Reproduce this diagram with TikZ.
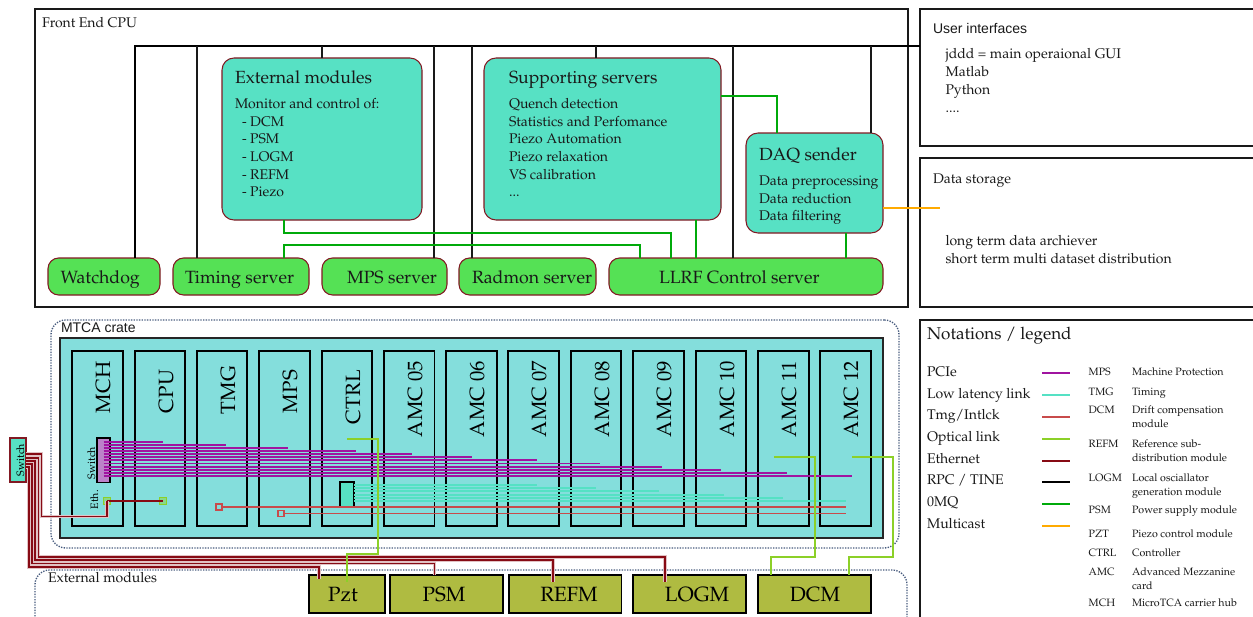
\documentclass[tikz,border=0pt]{standalone}
\usepackage{mathpazo}
\usepackage{fontspec}
\setmainfont{Liberation Serif}
\newfontfamily\lsans{Liberation Sans}
\newcommand\pal[1]{\fontencoding{OT1}\fontfamily{ppl}\fontseries{m}\fontshape{n}\fontsize{#1}{#1}\selectfont}
\newcommand\lsz[1]{\lsans\fontsize{#1}{#1}\selectfont}
\definecolor{tealbox}{RGB}{87,225,196}
\definecolor{greenbox}{RGB}{85,225,85}
\definecolor{cratefill}{RGB}{132,222,220}
\definecolor{modfill}{RGB}{175,187,65}
\definecolor{pcie}{RGB}{160,20,160}
\definecolor{lowlat}{RGB}{85,225,196}
\definecolor{tmgc}{RGB}{200,75,75}
\definecolor{optc}{RGB}{140,208,40}
\definecolor{ethc}{RGB}{135,10,20}
\definecolor{zmq}{RGB}{0,170,10}
\definecolor{mcast}{RGB}{255,170,0}
\definecolor{dotc}{RGB}{70,90,125}
\definecolor{brd}{RGB}{130,25,35}
\tikzset{
  x=0.75pt,y=-0.75pt,
  txt/.style={anchor=base west,inner sep=0pt,outer sep=0pt,text=black!90,yshift=-0.6pt},
  rtxt/.style={anchor=base west,rotate=90,inner sep=0pt,outer sep=0pt},
  ctxt/.style={anchor=base,inner sep=0pt,outer sep=0pt},
  panel/.style={draw=black!90,line width=1.5pt,fill=white},
  rpc/.style={draw=black,line width=1.35pt},
  rpcthin/.style={draw=black!90,line width=1.1pt},
  zmqline/.style={draw=zmq,line width=1.7pt},
  mline/.style={draw=mcast,line width=1.6pt},
  modulebox/.style={draw=black,line width=1.4pt,fill=modfill},
  tbox/.style={draw=brd,line width=0.8pt,fill=tealbox,rounded corners=9pt},
  gbox/.style={draw=brd,line width=0.8pt,fill=greenbox,rounded corners=8pt},
  slotbox/.style={draw=black,line width=1.15pt},
  pcieline/.style={draw=pcie,line width=1.4pt},
  llline/.style={draw=lowlat,line width=1.4pt},
  tmgline/.style={draw=tmgc,line width=0.9pt},
  optline/.style={draw=optc,line width=1.5pt},
  ethline/.style={draw=ethc,line width=1.2pt,preaction={draw=ethc!25,line width=2.8pt}},
  dotbox/.style={draw=dotc,line width=1pt,densely dotted,rounded corners=11pt},
  sqred/.style={draw=tmgc,line width=1.1pt,fill=cratefill},
  sqgreen/.style={draw=optc,line width=1.3pt,fill=optc!45!cratefill}
}
\newcommand\bx[6]{\pgfmathsetmacro\bw{(#4-#2)*0.75}\pgfmathsetmacro\bh{(#5-#3)*0.75}\node[#6,minimum width=\bw pt,minimum height=\bh pt,inner sep=0pt,outer sep=0pt] (#1) at ({(#2+#4)/2},{(#3+#5)/2}) {};}
\begin{document}
\begin{tikzpicture}
\clip (0,0) rectangle (1253,617);
\fill[white] (0,0) rectangle (1253,617);
% panels
\bx{fe}{35}{9}{908}{307}{panel}
\bx{ui}{920}{9}{1270}{146}{panel}
\bx{ds}{920}{158}{1270}{307}{panel}
\bx{leg}{920}{320}{1270}{640}{panel}
\bx{ext}{222}{58}{422}{220}{tbox}
\bx{sup}{484}{58}{721}{220}{tbox}
\bx{daq}{746}{133}{883}{233}{tbox}
\bx{wd}{48}{258}{160}{295}{gbox}
\bx{tim}{173}{258}{309}{295}{gbox}
\bx{mpss}{322}{258}{447}{295}{gbox}
\bx{rad}{459}{258}{596}{295}{gbox}
\bx{llrf}{609}{258}{883}{295}{gbox}
% RPC bus
\draw[rpc] (135,0 |- wd.north) -- (135,46) -- (ui.west |- 135,46);
\draw[rpcthin] (197,0 |- tim.north) -- (197,46);
\draw[rpcthin] (322,0 |- ext.north) -- (322,46);
\draw[rpcthin] (434,0 |- mpss.north) -- (434,46);
\draw[rpcthin] (472,0 |- rad.north) -- (472,46);
\draw[rpcthin] (596,0 |- sup.north) -- (596,46);
\draw[rpcthin] (733,0 |- llrf.north) -- (733,46);
\draw[rpcthin] (871,0 |- daq.north) -- (871,46);
% 0MQ
\draw[zmqline] (284,0 |- ext.south) -- (284,233) -- (671,233) -- (671,0 |- llrf.north);
\draw[zmqline] (284,0 |- tim.north) -- (284,245) -- (640,245) -- (640,0 |- llrf.north);
\draw[zmqline] (696,0 |- sup.south) -- (696,0 |- llrf.north);
\draw[zmqline] (sup.east |- 0,96) -- (777,96) -- (777,0 |- daq.north);
\draw[zmqline] (846,0 |- daq.south) -- (846,0 |- llrf.north);
% multicast
\coordinate (mend) at (940,208);
\draw[mline] (daq.east |- mend) -- (mend);
% panel texts
\node[txt,font=\pal{10.5}] (t1) at (42,27) {Front End CPU};
\node[txt,font=\pal{13.2}] (t2) at (235,83) {External modules};
\node[txt,font=\pal{10.5}] (t3) at (235,108) {Monitor and control of:};
\node[txt,font=\pal{10.5}] (t4) at (242,126) {- DCM};
\node[txt,font=\pal{10.5}] (t5) at (242,143) {- PSM};
\node[txt,font=\pal{10.5}] (t6) at (242,161) {- LOGM};
\node[txt,font=\pal{10.5}] (t7) at (242,179) {- REFM};
\node[txt,font=\pal{10.5}] (t8) at (242,196) {- Piezo};
\node[txt,font=\pal{13.2}] (t9) at (509,83) {Supporting servers};
\node[txt,font=\pal{10.5}] (t10) at (509,108) {Quench detection};
\node[txt,font=\pal{10.5}] (t11) at (509,126) {Statistics and Perfomance};
\node[txt,font=\pal{10.5}] (t12) at (509,143) {Piezo Automation};
\node[txt,font=\pal{10.5}] (t13) at (509,161) {Piezo relaxation};
\node[txt,font=\pal{10.5}] (t14) at (509,179) {VS calibration};
\node[txt,font=\pal{10.5}] (t15) at (509,196) {...};
\node[txt,font=\pal{13.2}] (t16) at (759,160) {DAQ sender};
\node[txt,font=\pal{10.5}] (t17) at (759,185) {Data preprocessing};
\node[txt,font=\pal{10.5}] (t18) at (759,203) {Data reduction};
\node[txt,font=\pal{10.5}] (t19) at (759,220) {Data filtering};
\node[txt,font=\pal{13.3}] (t20) at (60.5,283) {Watchdog};
\node[txt,font=\pal{13.3}] (t21) at (185,283) {Timing server};
\node[txt,font=\pal{13.3}] (t22) at (347,283) {MPS server};
\node[txt,font=\pal{13.3}] (t23) at (472,283) {Radmon server};
\node[txt,font=\pal{13.3}] (t24) at (659,283) {LLRF Control server};
\node[txt,font=\lsz{10.5}] (u1) at (933,33) {User interfaces};
\node[txt,font=\pal{10.5}] (u2) at (945.5,58) {jddd = main operaional GUI};
\node[txt,font=\pal{10.5}] (u3) at (945.5,76) {Matlab};
\node[txt,font=\pal{10.5}] (u4) at (945.5,94) {Python};
\node[txt,font=\pal{10.5}] (u5) at (945.5,112) {....};
\node[txt,font=\pal{10.5}] (d1) at (933,183) {Data storage};
\node[txt,font=\pal{10.5}] (d2) at (945.5,245) {long term data archiever};
\node[txt,font=\pal{10.5}] (d3) at (945.5,263) {short term multi dataset distribution};
% crate
\bx{mtca}{51}{320}{899}{548}{dotbox}
\bx{extd}{35}{570}{907}{660}{dotbox}
\node[txt,font=\lsz{10.5}] (c1) at (61,332) {MTCA crate};
\node[txt,font=\pal{10.5}] (c2) at (48,582) {External modules};
\bx{crate}{60}{338}{883}{538}{draw=black!85,line width=0.9pt,fill=cratefill}
\foreach \i/\xa/\xb/\lab/\bot in {1/72/123/MCH/413,2/135/185/CPU/413,3/197/247/TMG/414,4/259/310/MPS/413,5/322/372/CTRL/424,6/384/434.5/AMC 05/437,7/446/497/AMC 06/437,8/508/559/AMC 07/437,9/571/621/AMC 08/437,10/633/684/AMC 09/437,11/696/746/AMC 10/437,12/758/809/AMC 11/437,13/820/871/AMC 12/437}{
  \bx{s\i}{\xa}{351}{\xb}{526}{slotbox}
  \node[rtxt,font=\pal{15.5}] (sl\i) at (\xa+38,\bot) {\lab};
}
% internal switch
\bx{swm}{97}{438}{110}{482.5}{draw=black,line width=1.2pt,fill=pcie!60!white!85!cratefill}
\node[rtxt,font=\pal{8}] (swt) at (95,479) {Switch};
\node[rtxt,font=\pal{8}] (etht) at (98,509) {Eth.};
\foreach \y/\xe in {441.7/163,444.9/226,448/288,451.1/356,454.2/412,457.3/472,460.4/537,463.5/600,466.7/662,469.8/721,472.9/786.5,476/852}{
  \coordinate (pe) at (\xe,\y);
  \draw[pcieline] (swm.center |- pe) -- (pe);
}
% low latency
\bx{llb}{340}{482}{354}{507}{draw=black,line width=0.8pt,fill=tealbox}
\foreach \y/\xe in {485/537,488.3/596,491.4/659,494.7/724,497.8/783,501/846}{
  \coordinate (le) at (\xe,\y);
  \draw[llline] (llb.east |- le) -- (le);
}
% timing
\bx{sq1}{216}{504}{222}{510}{sqred}
\bx{sq2}{278}{510.5}{284}{516.5}{sqred}
\coordinate (tm1) at (846,507);
\coordinate (tm2) at (846,513.5);
\draw[tmgline] (sq1.east) -- (tm1);
\draw[tmgline] (sq2.east) -- (tm2);
% external modules
\bx{pzt}{309}{575}{385}{613}{modulebox}
\bx{psm}{390}{575}{503}{613}{modulebox}
\bx{refm}{509}{575}{621.5}{613}{modulebox}
\bx{logm}{633}{575}{746}{613}{modulebox}
\bx{dcm}{758}{575}{871}{613}{modulebox}
\node[ctxt,font=\pal{15.5}] (m1) at (343,601) {Pzt};
\node[ctxt,font=\pal{15.5}] (m2) at (444,601) {PSM};
\node[ctxt,font=\pal{15.5}] (m3) at (569,601) {REFM};
\node[ctxt,font=\pal{15.5}] (m4) at (697,601) {LOGM};
\node[ctxt,font=\pal{15.5}] (m5) at (815,601) {DCM};
% external switch
\bx{esw}{10}{438}{26}{482}{draw=brd,line width=1.1pt,fill=tealbox}
\node[rtxt,font=\pal{8}] (eswt) at (24,476) {Switch};
% ethernet
\bx{sq3}{103.5}{497.5}{110.5}{504.5}{sqgreen}
\bx{sq4}{159.5}{497.5}{166.5}{504.5}{sqgreen}
\draw[draw=ethc,line width=1.2pt] (sq3.center) -- (sq4.center);
\draw[ethline] (esw.east |- 0,467) -- (29,467) -- (29,566.7) -- (319,566.7) -- (319,578.7);
\draw[ethline] (esw.east |- 0,464) -- (32,464) -- (32,563.5) -- (434.5,563.5) -- (434.5,0 |- psm.north);
\draw[ethline] (esw.east |- 0,461) -- (35,461) -- (35,560) -- (553,560) -- (553,581.7);
\draw[ethline] (esw.east |- 0,457.7) -- (38.3,457.7) -- (38.3,557) -- (665,557) -- (665,581.7);
\draw[ethline] (esw.east |- 0,454) -- (41.5,454) -- (41.5,516.5) -- (107,516.5) -- (sq3.center);
% optical
\coordinate (o1) at (347,438.7);
\coordinate (o2) at (346.5,581.7);
\coordinate (o3) at (774,457);
\coordinate (o4) at (852,457);
\draw[optline] (o1) -- (378,438.7) -- (378,553.7) -- (346.5,553.7) -- (o2);
\draw[optline] (o3) -- (815,457) -- (815,556.7) -- (771,556.7) -- (771,0 |- dcm.north);
\draw[optline] (o4) -- (892.5,457) -- (892.5,556.7) -- (848.5,556.7) -- (848.5,0 |- dcm.north);
% legend
\node[txt,font=\pal{12.8}] (lt) at (927,339) {Notations / legend};
\foreach \i/\lab/\yt/\yl/\col in {1/PCIe/376/372.7/pcie,2/Low latency link/397.5/395/lowlat,3/{Tmg/Intlck}/419/416.7/tmgc,4/Optical link/441/438.7/optc,5/Ethernet/463/460.7/ethc,6/{RPC / TINE}/484/482/black,7/0MQ/506/504/zmq,8/Multicast/528/526/mcast}{
  \node[txt,font=\pal{10.5}] (ll\i) at (927,\yt) {\lab};
  \coordinate (la\i) at (1042,\yl);
  \coordinate (lb\i) at (1070,\yl);
  \draw[draw=\col,line width=1.3pt] (la\i) -- (lb\i);
}
\foreach \i/\lab/\y in {1/MPS/375,2/TMG/394.5,3/DCM/413,4/REFM/447,5/LOGM/481,6/PSM/513,7/PZT/537,8/CTRL/556,9/AMC/575,10/MCH/606}{
  \node[txt,font=\pal{8}] (ab\i) at (1088.7,\y) {\lab};
}
\foreach \i/\lab/\y in {1/Machine Protection/375,2/Timing/394.5,3/Drift compensation/413,4/module/426.5,5/Reference sub-/447,6/distribution module/460.5,7/Local osciallator/481,8/generation module/495,9/Power supply module/513,10/Piezo control module/537,11/Controller/556,12/Advanced Mezzanine/575,13/card/588.5,14/MicroTCA carrier hub/606}{
  \node[txt,font=\pal{8}] (de\i) at (1132,\y) {\lab};
}
\end{tikzpicture}
\end{document}
